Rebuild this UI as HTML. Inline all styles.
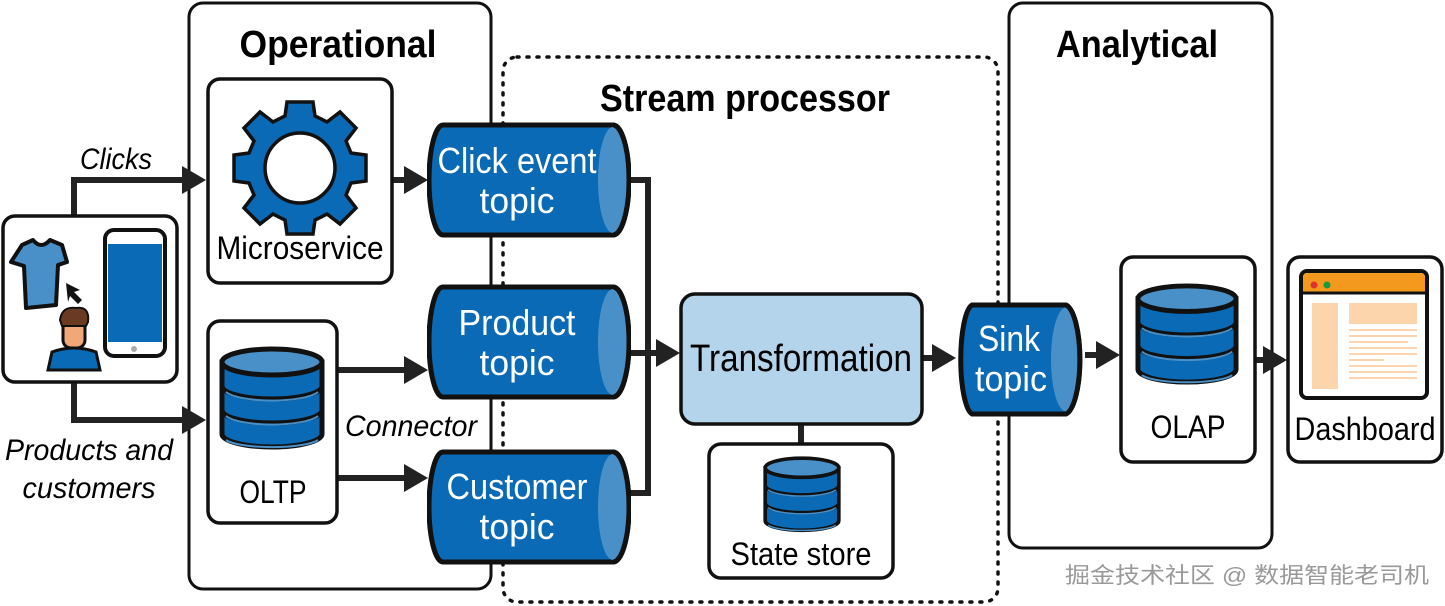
<!DOCTYPE html>
<html><head><meta charset="utf-8"><style>
html,body{margin:0;padding:0;background:#fff;}
svg{display:block;}
text{font-family:"Liberation Sans",sans-serif;}
</style></head><body>
<svg width="1445" height="606" viewBox="0 0 1445 606" xmlns="http://www.w3.org/2000/svg">
<defs>
<marker id="ah" markerWidth="24" markerHeight="28" refX="22" refY="14" orient="auto" markerUnits="userSpaceOnUse" viewBox="0 0 24 28">
<path d="M0,0 L24,14 L0,28 z" fill="#222"/></marker>
<symbol id="db" viewBox="0 0 108 106">
<path d="M4,16 V88 A50,13 0 0 0 104,88 V16 Z" fill="#0b6ab5" stroke="#111" stroke-width="5"/>
<path d="M4,40 A50,13 0 0 0 104,40 M4,64 A50,13 0 0 0 104,64" fill="none" stroke="#111" stroke-width="5"/>
<path d="M8,46 A48,12 0 0 0 100,46 M8,70 A48,12 0 0 0 100,70 M8,94 A48,10 0 0 0 100,94" fill="none" stroke="#4a90c8" stroke-width="2"/>
<ellipse cx="54" cy="16" rx="50" ry="13" fill="#4a90c8" stroke="#111" stroke-width="5"/>
</symbol>
<symbol id="cyl" viewBox="0 0 204 116">
<path d="M16,3 H186 A16,55 0 0 1 186,113 H16 A14,55 0 0 1 16,3 Z" fill="#0b6ab5" stroke="#111" stroke-width="5"/>
<ellipse cx="186" cy="58" rx="15" ry="53" fill="#4a90c8"/>
<path d="M186,3 A16,55 0 0 1 186,113" fill="none" stroke="#111" stroke-width="5"/>
</symbol>
</defs>

<!-- big containers -->
<rect x="189" y="3" width="302" height="586" rx="14" fill="none" stroke="#111" stroke-width="3"/>
<rect x="503" y="57" width="495" height="545" rx="14" fill="none" stroke="#111" stroke-width="3.5" stroke-dasharray="2,8" stroke-linecap="round"/>
<rect x="1009" y="3" width="263" height="545" rx="14" fill="none" stroke="#111" stroke-width="3"/>

<text x="338" y="57" font-size="38" font-weight="bold" text-anchor="middle" textLength="197" lengthAdjust="spacingAndGlyphs">Operational</text>
<text x="745" y="111" font-size="38" font-weight="bold" text-anchor="middle" textLength="290" lengthAdjust="spacingAndGlyphs">Stream processor</text>
<text x="1137" y="57" font-size="38" font-weight="bold" text-anchor="middle" textLength="162" lengthAdjust="spacingAndGlyphs">Analytical</text>

<!-- connectors -->
<g stroke="#222" stroke-width="6" fill="none">
<path d="M74,215 V180 H190"/>
<path d="M74,383 V420 H190"/>
<path d="M392,180 H412"/>
<path d="M338,370 H412"/>
<path d="M338,478 H412"/>
<path d="M630,180 H648 V493 H630 M630,353 H660"/>
<path d="M922,358 H938"/>
<path d="M1085,355 H1100"/>
<path d="M1255,360 H1268"/>
<path d="M801,424 V443"/>
</g>
<g fill="#222">
<path d="M182,166 L206,180 L182,194 Z"/>
<path d="M182,406 L206,420 L182,434 Z"/>
<path d="M404,166 L428,180 L404,194 Z"/>
<path d="M404,356 L428,370 L404,384 Z"/>
<path d="M404,464 L428,478 L404,492 Z"/>
<path d="M656,339 L680,353 L656,367 Z"/>
<path d="M932,344 L956,358 L932,372 Z"/>
<path d="M1096,341 L1120,355 L1096,369 Z"/>
<path d="M1263,346 L1287,360 L1263,374 Z"/>
</g>

<text x="116" y="169" font-size="30" font-style="italic" text-anchor="middle" textLength="72" lengthAdjust="spacingAndGlyphs">Clicks</text>
<text x="89" y="460" font-size="30" font-style="italic" text-anchor="middle" textLength="168" lengthAdjust="spacingAndGlyphs">Products and</text>
<text x="89" y="498" font-size="30" font-style="italic" text-anchor="middle" textLength="133" lengthAdjust="spacingAndGlyphs">customers</text>
<text x="411" y="436" font-size="30" font-style="italic" text-anchor="middle" textLength="132" lengthAdjust="spacingAndGlyphs">Connector</text>

<!-- user box -->
<rect x="3" y="216" width="174" height="166" rx="12" fill="#fff" stroke="#111" stroke-width="3.5"/>
<path d="M22,245 L33,240 Q41,250 50,240 L62,245 L67,262 L58,265 L56,305 L26,308 L24,266 L11,262 Z" fill="#4a90c8" stroke="#111" stroke-width="4" stroke-linejoin="round"/>
<path d="M66,283 L80,290 L74,292 L82,300 L78,304 L70,296 L68,302 Z" fill="#111"/>
<path d="M48,370 L52,352 Q74,344 96,352 L100,370 Z" fill="#0b6ab5" stroke="#111" stroke-width="3"/>
<rect x="63" y="320" width="22" height="28" rx="8" fill="#f0a878" stroke="#111" stroke-width="3"/>
<path d="M60,320 Q62,306 76,308 Q90,306 88,322 L86,326 L62,326 Z" fill="#6b3a22" stroke="#111" stroke-width="2"/>
<rect x="105" y="230" width="60" height="126" rx="9" fill="#fff" stroke="#111" stroke-width="4"/>
<rect x="108" y="244" width="54" height="98" fill="#0b6ab5"/>
<circle cx="134" cy="349" r="3" fill="#aaa"/>

<!-- microservice -->
<rect x="208" y="79" width="184" height="204" rx="12" fill="#fff" stroke="#111" stroke-width="3.5"/>
<g transform="translate(300,168)">
<g fill="#0b6ab5" stroke="#111" stroke-width="3.5">
<path d="M-13,-66 H13 L15,-52 L27,-46 L40,-56 L56,-40 L46,-27 L51,-15 L66,-13 V13 L51,15 L46,27 L56,40 L40,56 L27,46 L15,52 L13,66 H-13 L-15,52 L-27,46 L-40,56 L-56,40 L-46,27 L-51,15 L-66,13 V-13 L-51,-15 L-46,-27 L-56,-40 L-40,-56 L-27,-46 L-15,-52 Z"/>
</g>
<circle r="35" fill="#fff" stroke="#111" stroke-width="3.5"/>
</g>
<text x="300" y="259" font-size="32" text-anchor="middle" textLength="167" lengthAdjust="spacingAndGlyphs">Microservice</text>

<!-- OLTP -->
<rect x="208" y="321" width="129" height="202" rx="12" fill="#fff" stroke="#111" stroke-width="3.5"/>
<use href="#db" x="218" y="346" width="108" height="106"/>
<text x="273" y="503" font-size="32" text-anchor="middle" textLength="67" lengthAdjust="spacingAndGlyphs">OLTP</text>

<!-- cylinders -->
<use href="#cyl" x="427" y="122" width="204" height="116"/>
<use href="#cyl" x="427" y="284" width="204" height="116"/>
<use href="#cyl" x="427" y="449" width="204" height="116"/>
<g fill="#fff" font-size="36" text-anchor="middle">
<text x="517" y="173" textLength="159" lengthAdjust="spacingAndGlyphs">Click event</text>
<text x="517" y="213" textLength="75" lengthAdjust="spacingAndGlyphs">topic</text>
<text x="517" y="335" textLength="117" lengthAdjust="spacingAndGlyphs">Product</text>
<text x="517" y="375" textLength="75" lengthAdjust="spacingAndGlyphs">topic</text>
<text x="517" y="499" textLength="141" lengthAdjust="spacingAndGlyphs">Customer</text>
<text x="517" y="539" textLength="75" lengthAdjust="spacingAndGlyphs">topic</text>
</g>

<!-- transformation -->
<rect x="681" y="294" width="241" height="130" rx="14" fill="#b3d4ea" stroke="#111" stroke-width="3.5"/>
<text x="801" y="371" font-size="38" text-anchor="middle" textLength="222" lengthAdjust="spacingAndGlyphs">Transformation</text>

<!-- state store -->
<rect x="709" y="444" width="184" height="134" rx="12" fill="#fff" stroke="#111" stroke-width="3.5"/>
<use href="#db" x="762" y="456" width="80" height="78"/>
<text x="801" y="565" font-size="32" text-anchor="middle" textLength="141" lengthAdjust="spacingAndGlyphs">State store</text>

<!-- sink -->
<path d="M972,305 H1066 A16,55 0 0 1 1066,414 H972 A13,55 0 0 1 972,305 Z" fill="#0b6ab5" stroke="#111" stroke-width="5"/>
<ellipse cx="1066" cy="359.5" rx="15" ry="52" fill="#4a90c8"/>
<path d="M1066,305 A16,55 0 0 1 1066,414" fill="none" stroke="#111" stroke-width="5"/>
<text x="1009" y="351" font-size="36" fill="#fff" text-anchor="middle" textLength="62" lengthAdjust="spacingAndGlyphs">Sink</text>
<text x="1011" y="391" font-size="36" fill="#fff" text-anchor="middle" textLength="72" lengthAdjust="spacingAndGlyphs">topic</text>

<!-- OLAP -->
<rect x="1121" y="257" width="134" height="205" rx="12" fill="#fff" stroke="#111" stroke-width="3.5"/>
<use href="#db" x="1134" y="283" width="106" height="104"/>
<text x="1188" y="438" font-size="32" text-anchor="middle" textLength="75" lengthAdjust="spacingAndGlyphs">OLAP</text>

<!-- dashboard -->
<rect x="1288" y="257" width="154" height="205" rx="12" fill="#fff" stroke="#111" stroke-width="3.5"/>
<rect x="1301" y="271" width="126" height="127" rx="6" fill="#fff" stroke="#111" stroke-width="4"/>
<path d="M1303,292 V278 Q1303,273 1308,273 H1420 Q1425,273 1425,278 V292 Z" fill="#f39a1e"/>
<line x1="1301" y1="293" x2="1427" y2="293" stroke="#111" stroke-width="3"/>
<circle cx="1314" cy="285" r="3.5" fill="#d33"/>
<circle cx="1327" cy="285" r="3.5" fill="#1a9a3a"/>
<rect x="1312" y="303" width="26" height="86" fill="#fdd5ad"/>
<rect x="1349" y="303" width="68" height="21" fill="#fdd5ad"/>
<g stroke="#fdd5ad" stroke-width="2">
<line x1="1349" y1="330" x2="1417" y2="330"/><line x1="1349" y1="336" x2="1417" y2="336"/>
<line x1="1349" y1="342" x2="1408" y2="342"/><line x1="1349" y1="348" x2="1417" y2="348"/>
<line x1="1349" y1="354" x2="1417" y2="354"/><line x1="1349" y1="360" x2="1384" y2="360"/>
<line x1="1349" y1="366" x2="1417" y2="366"/><line x1="1349" y1="372" x2="1417" y2="372"/>
<line x1="1349" y1="378" x2="1417" y2="378"/>
</g>
<text x="1365" y="440" font-size="32" text-anchor="middle" textLength="141" lengthAdjust="spacingAndGlyphs">Dashboard</text>

<text x="1247" y="583" font-size="22" fill="#999" text-anchor="middle" style="font-family:'Liberation Sans','Noto Sans CJK SC',sans-serif" textLength="364" lengthAdjust="spacingAndGlyphs">掘金技术社区 @ 数据智能老司机</text>
</svg>
</body></html>
